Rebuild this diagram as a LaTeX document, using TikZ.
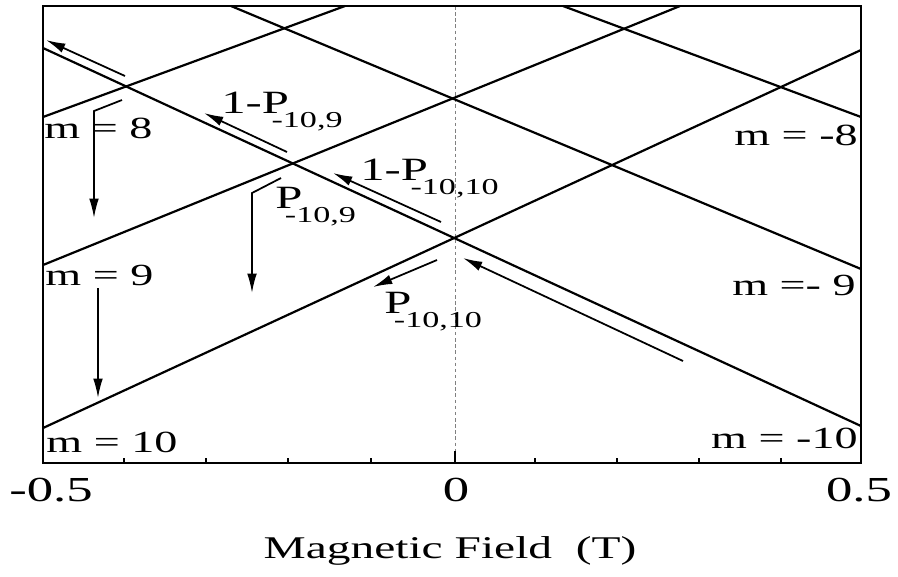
\documentclass[tikz,border=0pt]{standalone}
\usepackage{fontspec}
\usepackage{graphicx}
\setmainfont{Liberation Serif}
\newfontfamily\widefont[FakeStretch=1.5]{Liberation Serif}
\usetikzlibrary{arrows.meta}

% lowered, tucked-in subscript as in the original figure
\newcommand{\psub}[1]{\kern-10pt\raisebox{-8pt}{\scalebox{0.7}{#1}}}

\begin{document}
\begin{tikzpicture}[x=0.02cm,y=-0.02cm,
  level/.style={line width=1.25pt},
  jump/.style={line width=1pt,-{Latex[length=11pt,width=5.5pt]}},
  mlabel/.style={inner sep=0pt,font=\widefont\fontsize{17.5}{19}\selectfont},
  plabel/.style={inner sep=0pt,anchor=base west,font=\widefont\fontsize{18.5}{20}\selectfont},
  ticklabel/.style={inner sep=0pt,anchor=base,font=\widefont\fontsize{20}{22}\selectfont}]
\useasboundingbox (0,0) rectangle (898,576);

% zero field
\draw[gray,line width=0.4pt,dash pattern=on 2pt off 1.5pt] (455,6) -- (455,463);

% levels
\draw[level] (43,428) -- (861,50);   % m = 10
\draw[level] (43,48)  -- (861,426);  % m = -10
\draw[level] (43,265) -- (680,6);    % m = 9
\draw[level] (231,6)  -- (861,269);  % m = -9
\draw[level] (43,117) -- (345,6);    % m = 8
\draw[level] (563,6)  -- (861,117);  % m = -8

% frame and ticks
\draw[line width=1.4pt] (43,6) rectangle (861,463);
\foreach \x in {124,206,288,371,535,617,699,781}
  \draw[line width=1pt] (\x,463) -- (\x,458);
\draw[line width=1pt] (455,463) -- (455,451);

% transitions
\draw[jump] (125,76) -- (46,40);
\draw[jump] (287,152) -- (204,113);
\draw[jump] (441,222) -- (333,173);
\draw[jump] (437,260) -- (373,287);
\draw[jump] (683,361) -- (463,258);
\draw[jump] (122,100) -- (94,111) -- (94,218);
\draw[jump] (281,178) -- (252,193) -- (252,293);
\draw[jump] (98,288) -- (98,398);

% probabilities
\node[plabel] (p1) at (221,113) {1-P\psub{-10,9}};
\node[plabel] (p2) at (360,180) {1-P\psub{-10,10}};
\node[plabel] (p3) at (275,208) {P\psub{-10,9}};
\node[plabel] (p4) at (384,313) {P\psub{-10,10}};

% quantum numbers
\node[mlabel,anchor=base west] (m8)  at (44,138) {m = 8};
\node[mlabel,anchor=base west] (m9)  at (45,285) {m = 9};
\node[mlabel,anchor=base west] (m10) at (46,452) {m = 10};
\node[mlabel,anchor=base east] (mm8)  at (858,145) {m = -8};
\node[mlabel,anchor=base east] (mm9)  at (856,295) {m =- 9};
\node[mlabel,anchor=base east] (mm10) at (858,448) {m = -10};

% axis
\node[ticklabel] (xa) at (51,501)  {-0.5};
\node[ticklabel] (xb) at (456,501) {0};
\node[ticklabel] (xc) at (859,501) {0.5};
\node[inner sep=0pt,anchor=base,font=\widefont\fontsize{18}{20}\selectfont]
  (xlab) at (450,558) {Magnetic Field~~(T)};
\end{tikzpicture}
\end{document}
